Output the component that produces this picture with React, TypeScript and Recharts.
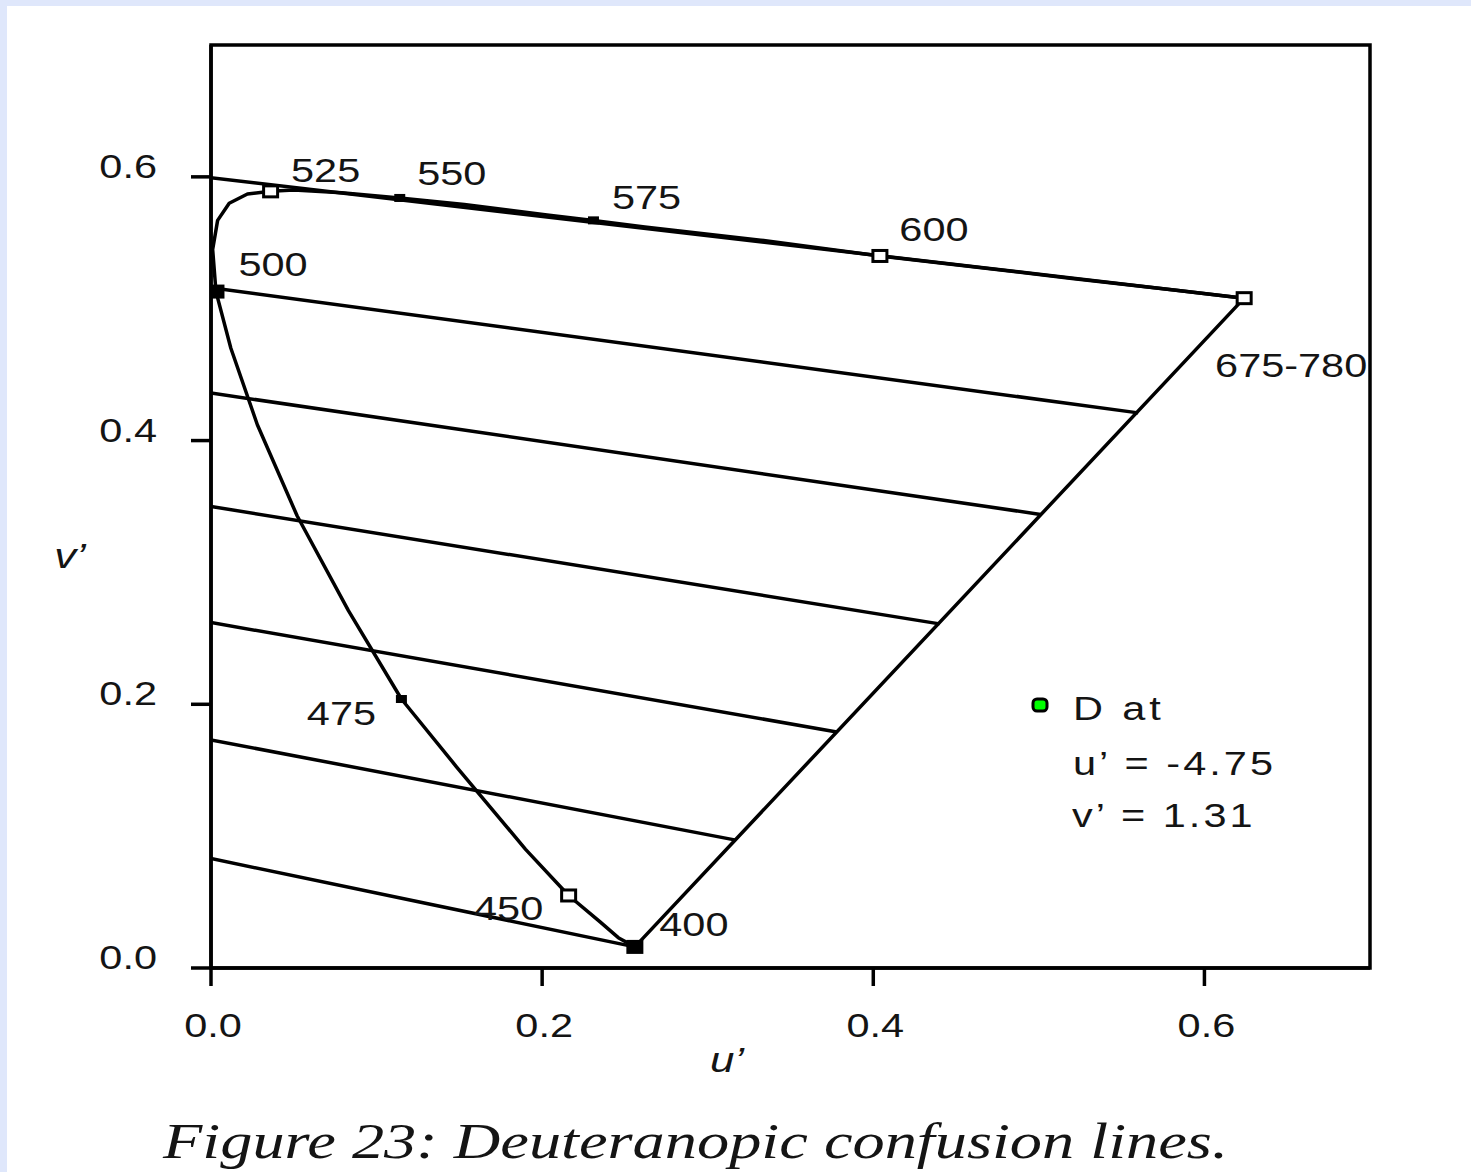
import React from "react";
import { ComposedChart, Scatter, XAxis, YAxis, ReferenceArea } from "recharts";

// spectral locus in CIE 1976 u'v', 400 nm -> 700 nm
const WAVELENGTHS = [400, 430, 440, 450, 460, 470, 475, 480, 485, 490, 495, 500, 505, 510, 515, 520, 525, 530, 540, 550, 560, 570, 575, 580, 590, 600, 620, 640, 700];
const LOCUS_U = [0.256, 0.246, 0.235, 0.216, 0.19, 0.148, 0.115, 0.083, 0.052, 0.028, 0.012, 0.003, 0.001, 0.004, 0.011, 0.022, 0.036, 0.05, 0.079, 0.114, 0.153, 0.203, 0.231, 0.262, 0.332, 0.404, 0.52, 0.583, 0.624];
const LOCUS_V = [0.016, 0.023, 0.035, 0.055, 0.09, 0.153, 0.204, 0.271, 0.343, 0.412, 0.47, 0.513, 0.545, 0.567, 0.58, 0.587, 0.589, 0.59, 0.588, 0.584, 0.579, 0.571, 0.567, 0.562, 0.552, 0.54, 0.523, 0.514, 0.508];

// deuteranopic confusion lines (start / end in u'v')
const CONF_START_U = [-0.012, 0, 0, 0, 0, 0, 0];
const CONF_START_V = [0.601, 0.516, 0.436, 0.35, 0.262, 0.173, 0.083];
const CONF_END_U = [0.624, 0.56, 0.501, 0.44, 0.378, 0.317, 0.256];
const CONF_END_V = [0.508, 0.421, 0.344, 0.261, 0.179, 0.097, 0.016];

// labelled points on the locus
const MARKED_WL = [400, 450, 475, 500, 525, 550, 575, 600, 700];
const MARKED_LABELS = ["400", "450", "475", "500", "525", "550", "575", "600", "675-780"];
const MARKED_FILLED = [true, false, true, true, false, true, true, false, false];

const TICKS = [0, 0.2, 0.4, 0.6];
const DOMAIN: [number, number] = [0, 0.7];

const CONFUSION_U = -4.75;
const CONFUSION_V = 1.31;

// label placement relative to marker (px, to text centre)
const LABEL_OFFSET: Record<number, [number, number]> = {
  400: [59, -23],
  450: [-60, 13],
  475: [-60, 14],
  500: [57, -28],
  525: [55, -21],
  550: [52, -25],
  575: [53, -23],
  600: [54, -27],
  700: [47, 67],
};
const BIG_MARKERS = [400, 500];

const FONT = "'Liberation Sans', Arial, sans-serif";
const STRETCH = 1.22;
const TEXT_COLOR = "#141414";
const STROKE_W = 3.5;

const locus = WAVELENGTHS.map((wl, i) => ({ wl, u: LOCUS_U[i], v: LOCUS_V[i] }));
// close the gamut with the purple line back to 400 nm
const locusClosed = [...locus, locus[0]];

const confusionLines = CONF_START_U.map((_, i) => [
  { u: CONF_START_U[i], v: CONF_START_V[i] },
  { u: CONF_END_U[i], v: CONF_END_V[i] },
]);

const marked = MARKED_WL.map((wl, i) => {
  const p = locus.find((d) => d.wl === wl)!;
  return { wl, u: p.u, v: p.v, label: MARKED_LABELS[i], filled: MARKED_FILLED[i] };
});

const noDot = () => <g />;

const MarkerShape = (props: any) => {
  const { cx, cy, payload } = props;
  const big = BIG_MARKERS.includes(payload.wl);
  const [dx, dy] = LABEL_OFFSET[payload.wl] || [50, -25];
  const w = big ? 17 : payload.filled ? 11 : 14;
  const h = big ? 14 : payload.filled ? 8 : 11;
  return (
    <g>
      {payload.filled ? (
        <rect x={cx - w / 2} y={cy - h / 2} width={w} height={h} fill="#000" />
      ) : (
        <rect x={cx - w / 2} y={cy - h / 2} width={w} height={h} fill="#fff" stroke="#000" strokeWidth={3} />
      )}
      <text
        transform={`translate(${cx + dx},${cy + dy + 12}) scale(${STRETCH},1)`}
        textAnchor="middle"
        fontFamily={FONT}
        fontSize={34}
        fill={TEXT_COLOR}
      >
        {payload.label}
      </text>
    </g>
  );
};

const XTick = (props: any) => {
  const { x, y, payload } = props;
  return (
    <text
      transform={`translate(${x + 2},${y + 51}) scale(${STRETCH},1)`}
      textAnchor="middle"
      fontFamily={FONT}
      fontSize={34}
      fill={TEXT_COLOR}
    >
      {Number(payload.value).toFixed(1)}
    </text>
  );
};

const YTick = (props: any) => {
  const { x, y, payload } = props;
  return (
    <text
      transform={`translate(${x - 34},${y + 1}) scale(${STRETCH},1)`}
      textAnchor="end"
      fontFamily={FONT}
      fontSize={34}
      fill={TEXT_COLOR}
    >
      {Number(payload.value).toFixed(1)}
    </text>
  );
};

const lineStyle = { stroke: "#000", strokeWidth: STROKE_W, fill: "none", strokeLinejoin: "round" as const };
const axisStyle = { stroke: "#000", strokeWidth: STROKE_W };

export default function App() {
  return (
    <div style={{ position: "absolute", left: 0, top: 0, width: 1471, height: 1172, background: "#dfe7fb", overflow: "hidden" }}>
      <div style={{ position: "absolute", left: 7, top: 6, right: 0, bottom: 0, background: "#fff" }} />
      <div style={{ position: "absolute", left: 0, top: 0 }}>
        <ComposedChart width={1471} height={1172} margin={{ top: 45, right: 101, left: 111, bottom: 104 }}>
          <XAxis
            type="number"
            dataKey="u"
            domain={DOMAIN}
            ticks={TICKS}
            allowDataOverflow
            height={100}
            tickSize={18}
            tickMargin={0}
            tick={<XTick />}
            axisLine={axisStyle}
            tickLine={axisStyle}
          />
          <YAxis
            type="number"
            dataKey="v"
            domain={DOMAIN}
            ticks={TICKS}
            allowDataOverflow
            width={100}
            tickSize={20}
            tickMargin={0}
            tick={<YTick />}
            axisLine={axisStyle}
            tickLine={axisStyle}
          />
          <ReferenceArea x1={0} x2={0.7} y1={0} y2={0.7} fill="none" fillOpacity={0} stroke="#000" strokeWidth={STROKE_W} ifOverflow="visible" />
          {confusionLines.map((pts, i) => (
            <Scatter
              key={`conf-${i}`}
              data={pts}
              fill="#000"
              strokeWidth={STROKE_W}
              line={lineStyle}
              shape={noDot}
              isAnimationActive={false}
            />
          ))}
          <Scatter data={locusClosed} fill="#000" strokeWidth={STROKE_W} line={lineStyle} shape={noDot} isAnimationActive={false} />
          <Scatter data={marked} fill="#000" shape={<MarkerShape />} isAnimationActive={false} />
        </ComposedChart>
      </div>
      <svg width={1471} height={1172} style={{ position: "absolute", left: 0, top: 0, pointerEvents: "none" }}>
        {/* axis titles */}
        <text transform={`translate(727,1072) scale(${STRETCH},1)`} textAnchor="middle" fontFamily={FONT} fontStyle="italic" fontSize={36} fill={TEXT_COLOR}>
          u’
        </text>
        <text transform={`translate(70,568) scale(${STRETCH},1)`} textAnchor="middle" fontFamily={FONT} fontStyle="italic" fontSize={36} fill={TEXT_COLOR}>
          v’
        </text>
        {/* confusion point legend */}
        <rect x={1033} y={699} width={14} height={12} rx={4} fill="#00ff00" stroke="#000" strokeWidth={3} />
        <text transform={`translate(1073,720) scale(${STRETCH},1)`} fontFamily={FONT} fontSize={34} fill={TEXT_COLOR} textLength={72} lengthAdjust="spacing">
          D at
        </text>
        <text transform={`translate(1073,775) scale(${STRETCH},1)`} fontFamily={FONT} fontSize={34} fill={TEXT_COLOR} textLength={164} lengthAdjust="spacing">
          {`u’ = ${CONFUSION_U}`}
        </text>
        <text transform={`translate(1072,827) scale(${STRETCH},1)`} fontFamily={FONT} fontSize={34} fill={TEXT_COLOR} textLength={148} lengthAdjust="spacing">
          {`v’ = ${CONFUSION_V}`}
        </text>
        {/* caption */}
        <text x={163} y={1158} fontFamily="'Liberation Serif', 'Times New Roman', serif" fontStyle="italic" fontSize={50} fill={TEXT_COLOR} textLength={1065} lengthAdjust="spacingAndGlyphs">
          Figure 23:  Deuteranopic confusion lines.
        </text>
      </svg>
    </div>
  );
}
